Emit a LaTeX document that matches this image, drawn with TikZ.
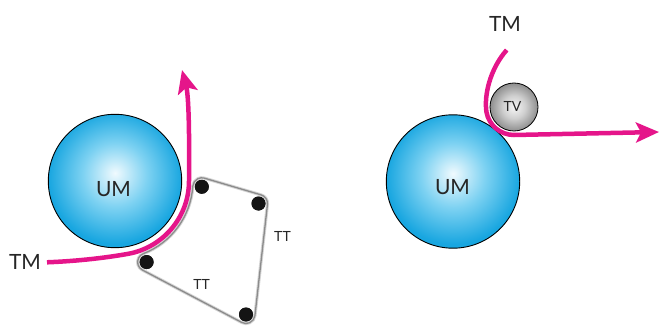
\documentclass[tikz,border=0pt]{standalone}
\usepackage{fontspec}
\setmainfont{Lato}
\usetikzlibrary{arrows.meta,calc}
\definecolor{pinkline}{HTML}{E5158A}
\definecolor{umin}{HTML}{F0FAFE}
\definecolor{ummid}{HTML}{7ED2F2}
\definecolor{umout}{HTML}{18A6E0}
\definecolor{tvin}{HTML}{F6F6F6}
\definecolor{tvmid}{HTML}{CFCFCF}
\definecolor{tvout}{HTML}{8E8E8E}
\definecolor{beltgray}{HTML}{8C8C8C}
\definecolor{belthalo}{HTML}{D6D6D6}
\definecolor{txt}{HTML}{262626}
\pgfdeclareradialshading{umshade}{\pgfpoint{0bp}{3bp}}{color(0bp)=(umin); color(12bp)=(ummid); color(25bp)=(umout); color(50bp)=(umout)}
\pgfdeclareradialshading{tvshade}{\pgfpoint{0bp}{0bp}}{color(0bp)=(tvin); color(12bp)=(tvmid); color(25bp)=(tvout); color(50bp)=(tvout)}
\begin{document}
\begin{tikzpicture}[x=1pt,y=1pt,
  drum/.style={circle, draw=black, line width=0.9pt, shading=umshade, minimum size=133.4pt, inner sep=0pt},
  tvroll/.style={circle, draw=black, line width=0.8pt, shading=tvshade, minimum size=48pt, inner sep=0pt},
  roller/.style={circle, fill=black!92, minimum size=14pt, inner sep=0pt},
  bigtext/.style={text=txt, font=\fontsize{21}{24}\selectfont, inner sep=0pt},
  smalltext/.style={text=txt, font=\fontsize{14}{16}\selectfont, inner sep=0pt},
  pinkarrow/.style={draw=pinkline, line width=4.5pt, -{Stealth[length=23pt,width=20pt,inset=5pt]}},
  beltline/.style={draw=beltgray, line width=1.3pt, line join=round},
  beltglow/.style={draw=belthalo, line width=3.2pt, line join=round}
]
\useasboundingbox (0,0) rectangle (660,327);

% ---------- left: drum with belt ----------
\node[drum] (um1) at (115,146) {};
\node[roller] (r1) at ($(um1.center)+(-3.8:87)$) {};
\node[roller] (r2) at (258.5,123.5) {};
\node[roller] (r3) at (246,12.5) {};
\node[roller] (r4) at ($(um1.center)+(-68.7:87)$) {};

\foreach \sty in {beltglow,beltline}{
\draw[\sty] ($(r1.center)+(73.6:9)$) -- ($(r2.center)+(73.6:9)$)
  arc[start angle=73.6,end angle=-6.4,radius=9]
  -- ($(r3.center)+(-6.4:9)$)
  arc[start angle=-6.4,end angle=-117.8,radius=9]
  -- ($(r4.center)+(-117.8:9)$)
  arc[start angle=242.2,end angle=111.3,radius=9]
  arc[start angle=-68.7,end angle=-3.8,radius=78]
  arc[start angle=176.2,end angle=73.6,radius=9] -- cycle;
}
\foreach \r in {r1,r2,r3,r4}{\node[roller] at (\r.center) {};}

\node[bigtext] (umlab1) at (113.5,137.5) {UM};
\node[bigtext] (tm1) at (25,65) {TM};
\node[smalltext] (tt1) at (201.7,43) {TT};
\node[smalltext] (tt2) at (282.5,90.3) {TT};

\coordinate (tmstart1) at (47,64.7);
\coordinate (tip1) at (182,257);
\draw[pinkarrow] (tmstart1) .. controls (80,66) and (108,69.6) .. ($(um1.center)+(-80:74)$)
  arc[start angle=-80,end angle=0,radius=74]
  .. controls (189.5,200) and (188.5,232) .. (tip1);

% ---------- right: drum with pressure roller ----------
\node[drum] (um2) at (453,145.5) {};
\node[tvroll] (tv) at (514,220) {};
\node[bigtext] (umlab2) at (452.5,140.3) {UM};
\node[smalltext] (tvlab) at (512.5,220.3) {TV};
\node[bigtext] (tm2) at (505,303) {TM};

\coordinate (tmstart2) at (506.7,277);
\coordinate (tip2) at (659,195);
\draw[pinkarrow] (tmstart2) .. controls (490,258) and (484,232) .. ($(tv.center)+(190:28)$)
  arc[start angle=190,end angle=270,radius=28] -- (tip2);
\end{tikzpicture}
\end{document}
